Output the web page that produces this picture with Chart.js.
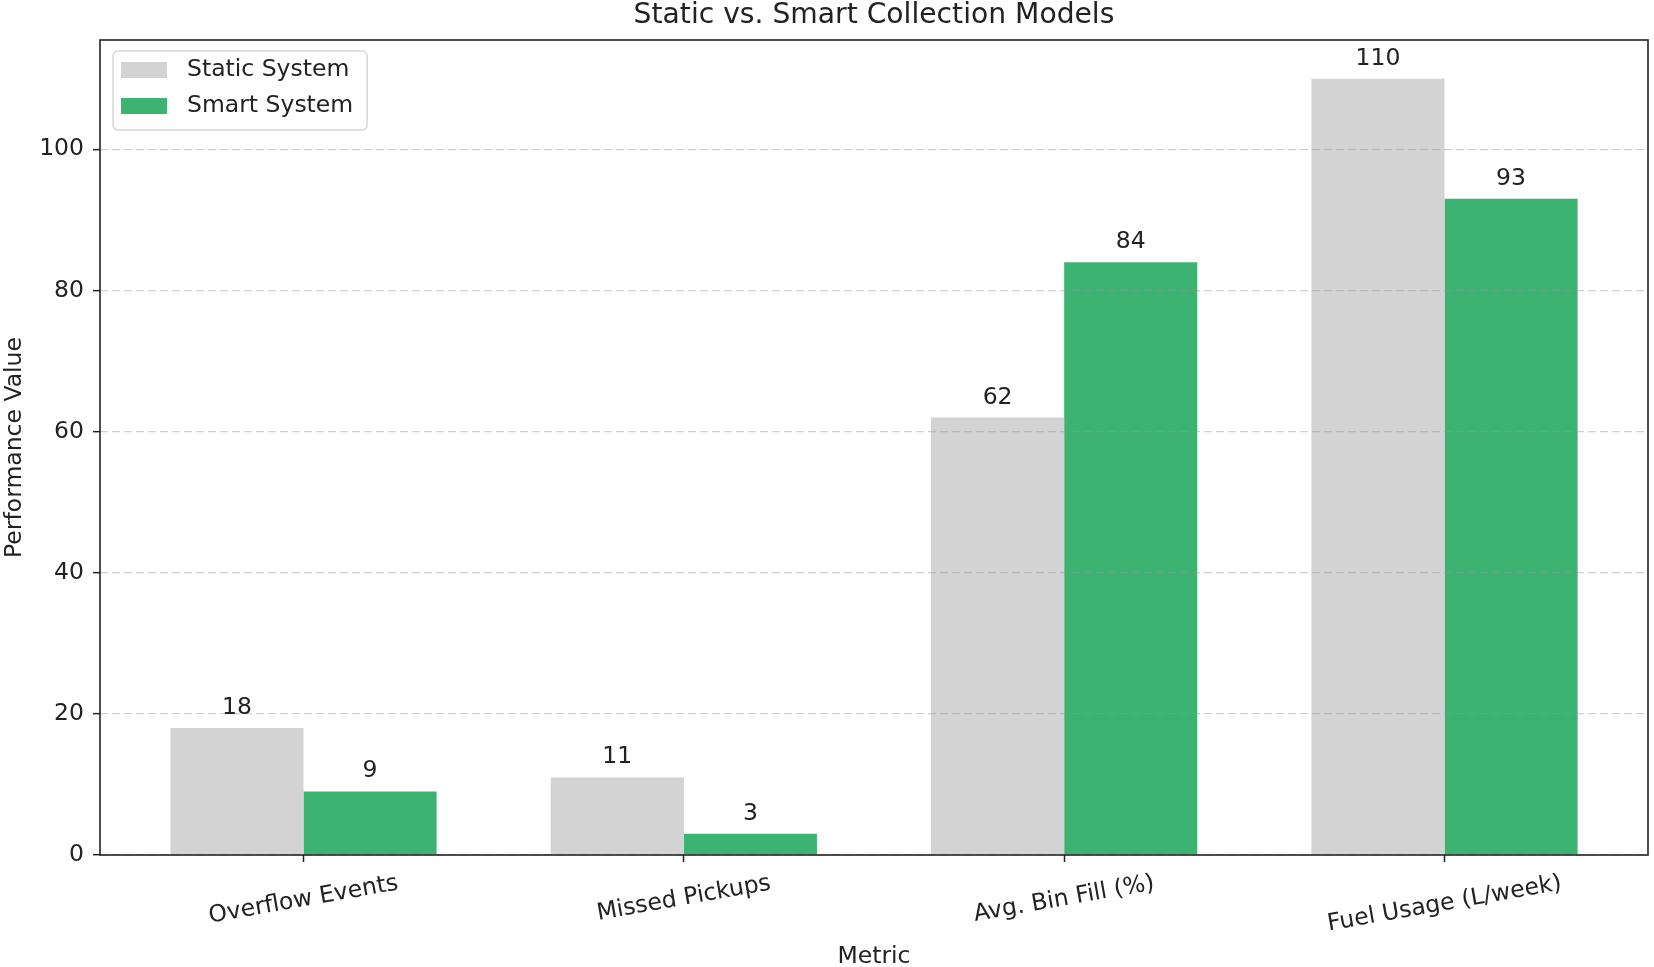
<!DOCTYPE html>
<html lang="en">
<head>
    <meta charset="UTF-8">
    <title>Static vs. Smart Collection Models</title>
    <script src="https://cdn.jsdelivr.net/npm/chart.js"></script>
    <style>
        html, body { margin: 0; padding: 0; background: #fff; }
    </style>
</head>
<body>
<canvas id="barChart" width="1654" height="967"></canvas>

<script>
    // Chart data
    const metrics = ['Overflow Events', 'Missed Pickups', 'Avg. Bin Fill (%)', 'Fuel Usage (L/week)'];
    const staticValues = [18, 11, 62, 110];
    const smartValues = [9, 3, 84, 93];
    const seriesNames = ['Static System', 'Smart System'];
    const yTicks = [0, 20, 40, 60, 80, 100];

    const FONT = 'DejaVu Sans';
    const FS = 23.5;
    const TEXT = '#222';
    const colors = ['#d3d3d3', '#3cb371'];

    // x range like matplotlib's auto margins around the grouped bars
    const X_MIN = -0.535, X_MAX = 3.535;
    const Y_MAX = 115.5;
    const LABEL_ROT = 10 * Math.PI / 180;

    // Frame around the plot area (all four spines)
    const framePlugin = {
        id: 'frame',
        afterDraw(chart) {
            const {ctx, chartArea: a} = chart;
            ctx.save();
            ctx.strokeStyle = TEXT;
            ctx.lineWidth = 1.6;
            ctx.strokeRect(a.left, a.top, a.right - a.left, a.bottom - a.top);
            ctx.restore();
        }
    };

    // Value labels above the bars
    const valueLabels = {
        id: 'valueLabels',
        afterDraw(chart) {
            const ctx = chart.ctx;
            ctx.save();
            ctx.font = FS + 'px "' + FONT + '"';
            ctx.fillStyle = TEXT;
            ctx.textAlign = 'center';
            ctx.textBaseline = 'alphabetic';
            chart.data.datasets.forEach((ds, di) => {
                chart.getDatasetMeta(di).data.forEach((bar, i) => {
                    ctx.fillText(String(ds.data[i]), bar.x, bar.y - 14);
                });
            });
            ctx.restore();
        }
    };

    // Rotated x tick labels, centred under the tick like matplotlib
    const xLabels = {
        id: 'xLabels',
        afterDraw(chart) {
            const ctx = chart.ctx;
            const xs = chart.scales.x;
            const bottom = chart.chartArea.bottom;
            ctx.save();
            ctx.font = FS + 'px "' + FONT + '"';
            ctx.fillStyle = TEXT;
            ctx.textAlign = 'center';
            ctx.textBaseline = 'middle';
            chart.data.labels.forEach((label, i) => {
                const w = ctx.measureText(label).width;
                const h = 27;
                const boxH = w * Math.sin(LABEL_ROT) + h * Math.cos(LABEL_ROT);
                const cx = xs.getPixelForTick(i);
                const cy = bottom + 7 + 8 + boxH / 2;
                ctx.save();
                ctx.translate(cx, cy);
                ctx.rotate(-LABEL_ROT);
                ctx.fillText(label, 0, 0);
                ctx.restore();
            });
            ctx.restore();
        }
    };

    // Legend box in the upper left corner of the plot
    const cornerLegend = {
        id: 'cornerLegend',
        afterDraw(chart) {
            const ctx = chart.ctx;
            const a = chart.chartArea;
            ctx.save();
            ctx.font = FS + 'px "' + FONT + '"';
            const textW = Math.max(...chart.data.datasets.map(d => ctx.measureText(d.label).width));
            const x0 = a.left + 13, y0 = a.top + 11;
            const w = 8 + 46 + 20 + textW + 14, h = 79;
            ctx.beginPath();
            ctx.roundRect(x0, y0, w, h, 5);
            ctx.fillStyle = 'rgba(255,255,255,0.8)';
            ctx.fill();
            ctx.strokeStyle = '#d6d6d6';
            ctx.lineWidth = 1.5;
            ctx.stroke();
            chart.data.datasets.forEach((ds, i) => {
                const sy = y0 + 11 + i * 36;
                ctx.fillStyle = ds.backgroundColor;
                ctx.fillRect(x0 + 8, sy, 46, 16);
                ctx.fillStyle = TEXT;
                ctx.textBaseline = 'middle';
                ctx.textAlign = 'left';
                ctx.fillText(ds.label, x0 + 74, sy + 8);
            });
            ctx.restore();
        }
    };

    const config = {
        type: 'bar',
        data: {
            labels: metrics,
            datasets: [
                { label: seriesNames[0], data: staticValues, backgroundColor: colors[0] },
                { label: seriesNames[1], data: smartValues, backgroundColor: colors[1] }
            ]
        },
        options: {
            responsive: false,
            animation: false,
            devicePixelRatio: 1,
            layout: { padding: { top: 0, right: 6, bottom: 0, left: 0 } },
            datasets: {
                bar: { categoryPercentage: 0.7, barPercentage: 1.0, borderWidth: 0 }
            },
            plugins: {
                legend: { display: false },
                tooltip: { enabled: false },
                title: {
                    display: true,
                    fullSize: false,
                    text: 'Static vs. Smart Collection Models',
                    color: TEXT,
                    font: { family: FONT, size: 28.2, weight: 'normal', lineHeight: 32 / 28.2 },
                    padding: { top: 0, bottom: 8 }
                }
            },
            scales: {
                x: {
                    offset: true,
                    afterBuildTicks: s => {
                        s._startValue = X_MIN;
                        s._valueRange = X_MAX - X_MIN;
                    },
                    afterFit: s => { s.height = 112; },
                    ticks: { display: false },
                    grid: {
                        offset: false,
                        drawOnChartArea: false,
                        drawTicks: true,
                        tickLength: 7,
                        tickWidth: 1.5,
                        tickColor: TEXT
                    },
                    border: { display: false },
                    title: {
                        display: true,
                        text: 'Metric',
                        color: TEXT,
                        font: { family: FONT, size: FS, lineHeight: 0.85 },
                        padding: { top: 0, bottom: 0 }
                    }
                },
                y: {
                    min: 0,
                    max: Y_MAX,
                    afterBuildTicks: s => { s.ticks = yTicks.map(v => ({ value: v })); },
                    afterFit: s => { s.width = 100; },
                    ticks: {
                        color: TEXT,
                        padding: 9,
                        font: { family: FONT, size: FS }
                    },
                    grid: {
                        z: 1,
                        color: 'rgba(150,150,150,0.45)',
                        lineWidth: 1.3,
                        tickLength: 7,
                        tickWidth: 1.5,
                        tickColor: TEXT
                    },
                    border: { display: false, dash: [8, 4] },
                    title: {
                        display: true,
                        text: 'Performance Value',
                        color: TEXT,
                        font: { family: FONT, size: FS },
                        padding: { top: 1, bottom: 0 }
                    }
                }
            }
        },
        plugins: [framePlugin, valueLabels, xLabels, cornerLegend]
    };

    new Chart(document.getElementById('barChart'), config);
</script>
</body>
</html>
